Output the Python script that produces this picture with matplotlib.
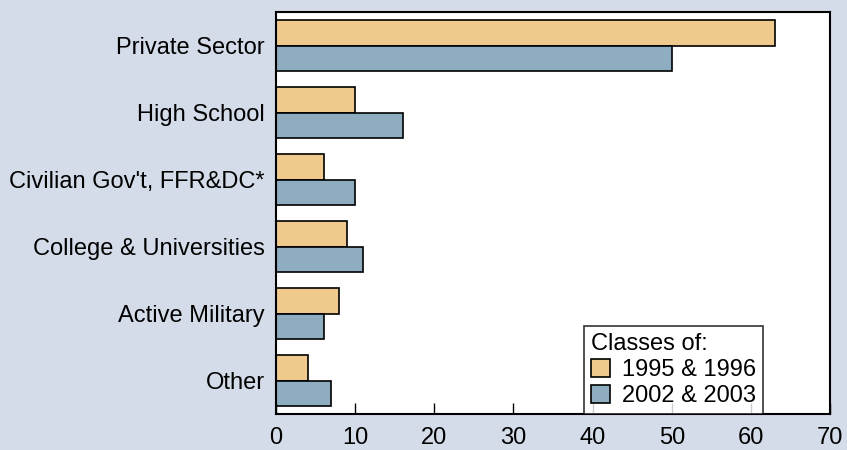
import matplotlib.pyplot as plt
import numpy as np

categories = ["Private Sector", "High School", "Civilian Gov't, FFR&DC*",
              "College & Universities", "Active Military", "Other"]
classes_1995_1996 = [63, 10, 6, 9, 8, 4]
classes_2002_2003 = [50, 16, 10, 11, 6, 7]
series_labels = ["1995 & 1996", "2002 & 2003"]

bg = "#d5dce9"
orange = "#f0c98c"
blue = "#8eadc0"

plt.rcParams["font.family"] = ["Liberation Sans", "DejaVu Sans"]

fig = plt.figure(figsize=(8.47, 4.5), dpi=100, facecolor=bg)
ax = fig.add_axes([0.3259, 0.08, 0.6541, 0.8933])

y = np.arange(len(categories))
h = 0.376
ax.barh(y - h / 2, classes_1995_1996, height=h, color=orange,
        edgecolor="black", linewidth=1.2, label=series_labels[0])
ax.barh(y + h / 2, classes_2002_2003, height=h, color=blue,
        edgecolor="black", linewidth=1.2, label=series_labels[1])

ax.set_xlim(0, 70)
ax.set_ylim(len(categories) - 0.5, -0.5)
ax.set_xticks(range(0, 71, 10))
ax.set_yticks(y)
ax.set_yticklabels(categories)
ax.tick_params(axis="x", direction="in", length=8, width=1, labelsize=17, pad=9)
ax.tick_params(axis="y", length=0, labelsize=17, pad=8)
for s in ax.spines.values():
    s.set_linewidth(1.5)

leg = ax.legend(title="Classes of:", loc="lower left", bbox_to_anchor=(0.556, 0.0),
                fontsize=17, title_fontsize=17, frameon=True, fancybox=False,
                edgecolor="black", handlelength=0.8, handleheight=0.8,
                handletextpad=0.5, borderpad=0.3, labelspacing=0.15,
                borderaxespad=0)
leg._legend_box.align = "left"
leg.get_frame().set_linewidth(1.2)

fig.savefig("out.png", dpi=100, facecolor=bg)
